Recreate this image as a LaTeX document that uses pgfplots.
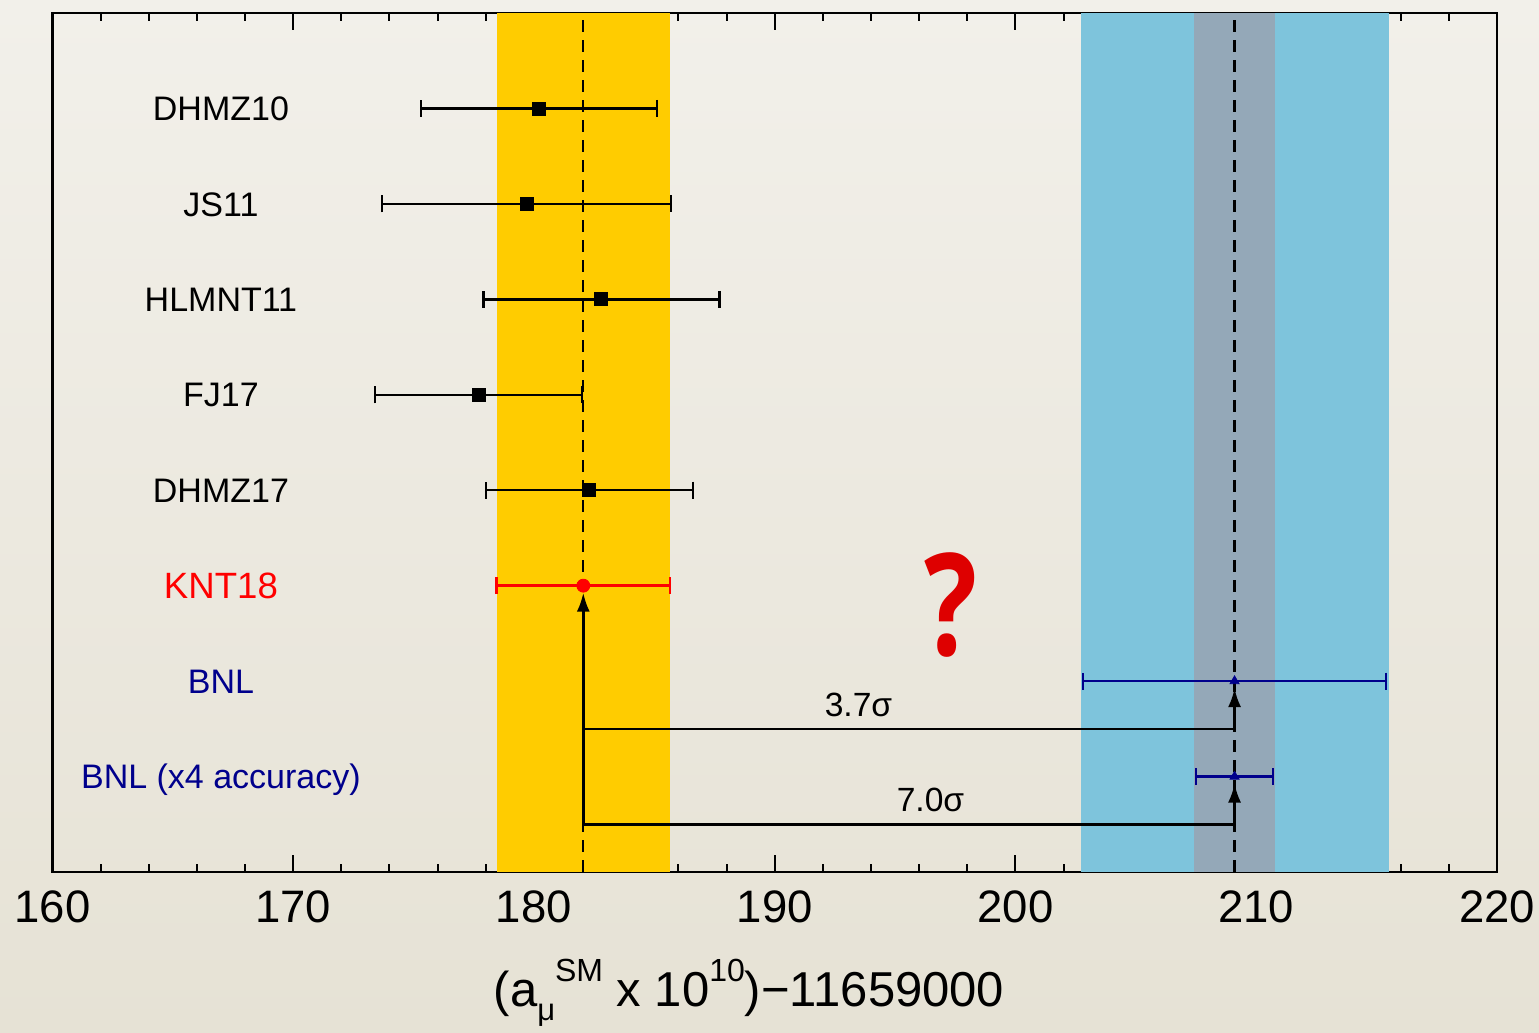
\documentclass[border=0pt]{standalone}
\usepackage{fontspec}
\setmainfont{Liberation Sans}
\newfontfamily\qfont{Open Sans}
\usepackage{pgfplots}
\pgfplotsset{compat=1.18}
\usetikzlibrary{arrows.meta}

\definecolor{bgtop}{RGB}{242,240,234}
\definecolor{bgbot}{RGB}{230,226,213}
\definecolor{bandyellow}{RGB}{255,204,0}
\definecolor{bandblue}{RGB}{126,196,220}
\definecolor{bandgray}{RGB}{148,168,184}
\definecolor{navy}{RGB}{0,0,140}
\definecolor{qred}{RGB}{222,0,0}

\newcommand{\rowfont}{\fontsize{17}{20}\selectfont}

\begin{document}
\begin{tikzpicture}
% page background
\shade[top color=bgtop, bottom color=bgbot] (0,0) rectangle (769.5pt,516.5pt);

\begin{axis}[
  at={(26.2pt,80.5pt)}, anchor=south west,
  width=722.3pt, height=429.5pt, scale only axis,
  xmin=160, xmax=220, ymin=0, ymax=9,
  xtick={160,170,...,220}, minor x tick num=4,
  ytick=\empty,
  tick align=inside,
  major tick length=8.5pt, minor tick length=4pt,
  every tick/.style={black, line width=1pt},
  axis line style={line width=1.3pt},
  xticklabel style={font=\fontsize{22.75}{26}\selectfont, inner sep=0pt, yshift=-9.3pt},
  /pgf/number format/assume math mode=true,
  errbar/.style={error bars/.cd, x dir=both, x explicit,
    error bar style={line width=1.2pt, #1},
    error mark options={rotate=90, mark size=4.25pt, line width=1.2pt, #1}},
  conn/.style={black, line width=1.3pt, -{Latex[length=9.5pt,width=6.5pt]}, shorten >=3.5pt},
]

% theory (KNT18) and experiment (BNL) bands
\addplot[draw=none, fill=bandyellow] coordinates {(178.45,0) (178.45,9) (185.65,9) (185.65,0)} -- cycle;
\addplot[draw=none, fill=bandblue] coordinates {(202.72,0) (202.72,9) (215.5,9) (215.5,0)} -- cycle;
\addplot[draw=none, fill=bandgray] coordinates {(207.4,0) (207.4,9) (210.8,9) (210.8,0)} -- cycle;

% central values
\addplot[black, line width=1.1pt, dash pattern=on 6pt off 4pt] coordinates {(182.05,0) (182.05,9)};
\addplot[black, line width=1.1pt, dash pattern=on 6pt off 4pt] coordinates {(209.1,0) (209.1,9)};

% discrepancy connectors
\addplot[conn] coordinates {(182.05,0.5) (182.05,3)};
\addplot[conn] coordinates {(182.05,1.5) (209.1,1.5) (209.1,2)};
\addplot[conn] coordinates {(182.05,0.5) (209.1,0.5) (209.1,1)};

% earlier evaluations
\addplot[only marks, mark=square*, mark size=3.25pt, black, errbar=black]
  coordinates {
  (180.2,8) +- (4.9,0)
  (179.7,7) +- (6.0,0)
  (182.8,6) +- (4.9,0)
  (177.7,5) +- (4.3,0)
  (182.3,4) +- (4.3,0)
  };

% KNT18
\addplot[only marks, mark=*, mark size=3.25pt, red, errbar=red]
  coordinates {(182.05,3) +- (3.6,0)};

% BNL measurement and projected accuracy
\addplot[only marks, mark=triangle*, mark size=2.6pt, navy, errbar=navy]
  coordinates {(209.1,2) +- (6.3,0) (209.1,1) +- (1.6,0)};

% row labels
\node[anchor=base, font=\rowfont, yshift=-6.1pt] at (axis cs:167,8) {DHMZ10};
\node[anchor=base, font=\rowfont, yshift=-6.1pt] at (axis cs:167,7) {JS11};
\node[anchor=base, font=\rowfont, yshift=-6.1pt] at (axis cs:167,6) {HLMNT11};
\node[anchor=base, font=\rowfont, yshift=-6.1pt] at (axis cs:167,5) {FJ17};
\node[anchor=base, font=\rowfont, yshift=-6.1pt] at (axis cs:167,4) {DHMZ17};
\node[anchor=base, font=\fontsize{18.3}{21}\selectfont, yshift=-6.5pt, text=red] at (axis cs:167,3) {KNT18};
\node[anchor=base, font=\rowfont, yshift=-6.1pt, text=navy] at (axis cs:167,2) {BNL};
\node[anchor=base, font=\rowfont, yshift=-6.1pt, text=navy] at (axis cs:167,1) {BNL (x4 accuracy)};

% significance labels
\node[anchor=base, font=\fontsize{16.8}{20}\selectfont, yshift=6.3pt] at (axis cs:193.48,1.5) {3.7σ};
\node[anchor=base, font=\fontsize{16.8}{20}\selectfont, yshift=6.3pt] at (axis cs:196.47,0.5) {7.0σ};

\node[inner sep=0pt, text=qred, font=\qfont\bfseries\fontsize{71}{80}\selectfont] at (axis cs:197.32,2.8) {\scalebox{0.78}[1]{?}};
\end{axis}

% x axis title
\node[anchor=base, inner sep=0pt, font=\fontsize{24.5}{28}\selectfont] at (374.5pt,13pt)
  {(a\raisebox{-7pt}{\fontsize{15.5}{16}\selectfont μ}\raisebox{12.6pt}{\fontsize{16}{16}\selectfont SM} x 10\raisebox{12.6pt}{\fontsize{16}{16}\selectfont 10})−11659000};

\pgfresetboundingbox
\useasboundingbox (0,0) rectangle (769.5pt,516.5pt);
\end{tikzpicture}
\end{document}
